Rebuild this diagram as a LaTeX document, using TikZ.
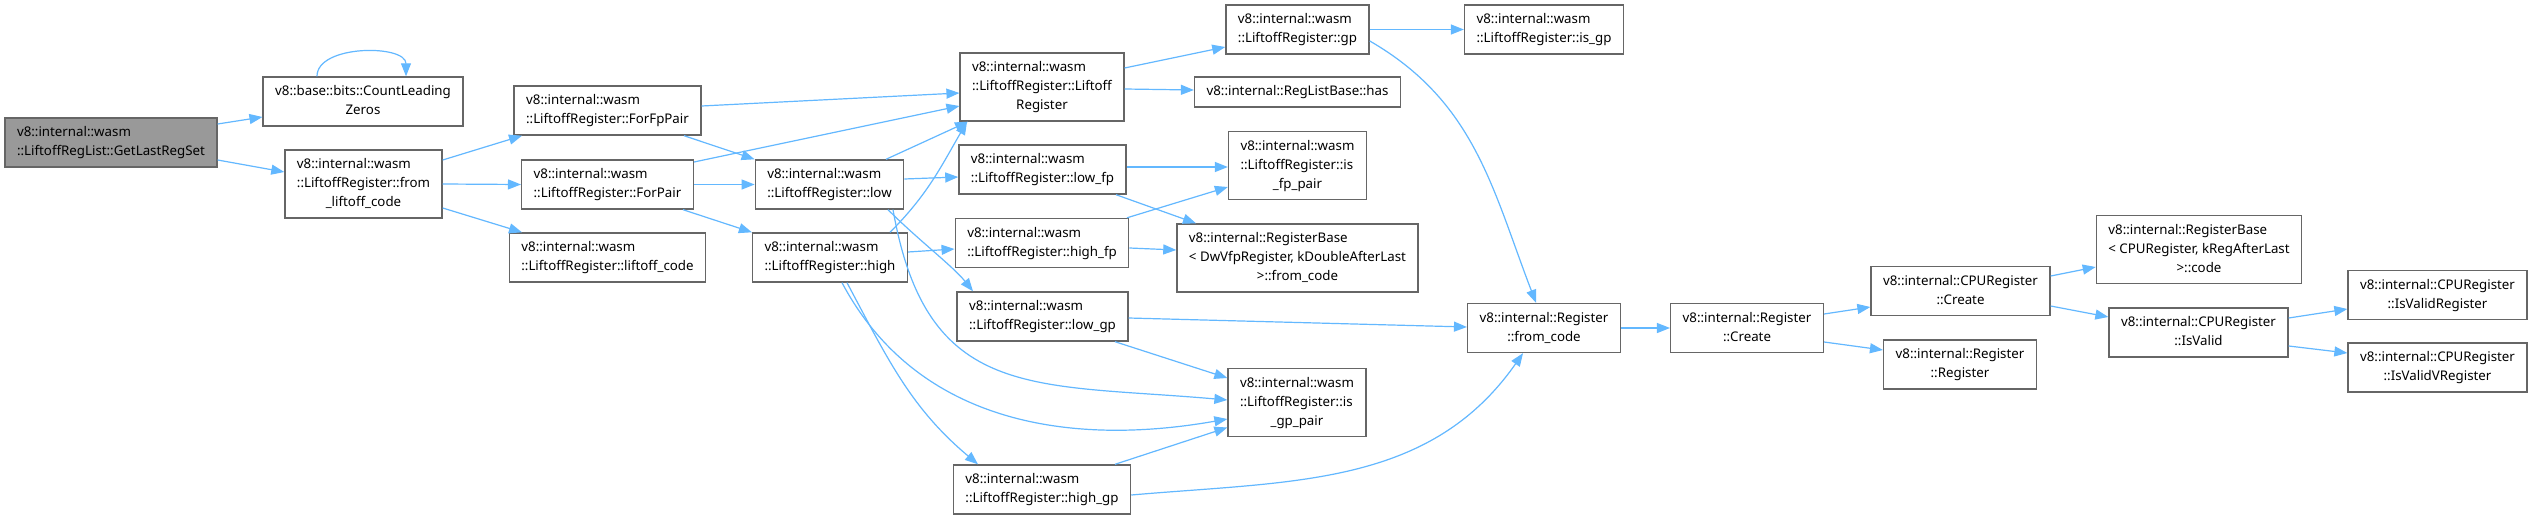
\documentclass[tikz,border=0pt]{standalone}
\usepackage{fontspec}
\setmainfont{Noto Sans}
\usepackage{tikz}
\usetikzlibrary{arrows.meta,positioning}
\definecolor{edgeblue}{HTML}{63B8FF}
\definecolor{boxline}{HTML}{666666}
\definecolor{mainbox}{HTML}{999999}
\newcommand{\lbl}[2]{\begin{tabular}{@{}l@{}}#1\\\multicolumn{1}{@{}c@{}}{#2}\end{tabular}}

\begin{document}
\begin{tikzpicture}[
  x=1pt,y=1pt,
  font=\fontsize{13.3}{19}\selectfont,
  box/.style={draw=boxline,line width=1.4pt,fill=white,inner xsep=12pt,inner ysep=5.5pt},
  arr/.style={-{Triangle[length=13pt,width=10pt]},edgeblue,line width=1.2pt}
]
\path[fill=white] (0,0) rectangle (2532,-519);
\useasboundingbox (0,0) rectangle (2532,-519);
\node[box,fill=mainbox] (getlast) at (111,-142.5) {\lbl{v8::internal::wasm}{::LiftoffRegList::GetLastRegSet}};
\node[box] (clz) at (363,-101.5) {\lbl{v8::base::bits::CountLeading}{Zeros}};
\node[box] (fromlc) at (363.5,-184) {\lbl{v8::internal::wasm\\::LiftoffRegister::from}{\_liftoff\_code}};
\node[box] (forfp) at (607.5,-110.5) {\lbl{v8::internal::wasm}{::LiftoffRegister::ForFpPair}};
\node[box] (forpair) at (607.5,-184.5) {\lbl{v8::internal::wasm}{::LiftoffRegister::ForPair}};
\node[box] (lcode) at (607.5,-257.5) {\lbl{v8::internal::wasm}{::LiftoffRegister::liftoff\_code}};
\node[box] (low) at (829.5,-184.5) {\lbl{v8::internal::wasm}{::LiftoffRegister::low}};
\node[box] (high) at (830,-257.5) {\lbl{v8::internal::wasm}{::LiftoffRegister::high}};
\node[box] (lreg) at (1042,-87) {\lbl{v8::internal::wasm\\::LiftoffRegister::Liftoff}{Register}};
\node[box] (lowfp) at (1042.5,-169.5) {\lbl{v8::internal::wasm}{::LiftoffRegister::low\_fp}};
\node[box] (highfp) at (1042,-243) {\lbl{v8::internal::wasm}{::LiftoffRegister::high\_fp}};
\node[box] (lowgp) at (1042.5,-316.5) {\lbl{v8::internal::wasm}{::LiftoffRegister::low\_gp}};
\node[box] (highgp) at (1042,-489.5) {\lbl{v8::internal::wasm}{::LiftoffRegister::high\_gp}};
\node[box] (gp) at (1297.5,-29.5) {\lbl{v8::internal::wasm}{::LiftoffRegister::gp}};
\node[box] (has) at (1297.5,-92) {\strut v8::internal::RegListBase::has};
\node[box] (isfp) at (1297.5,-165.5) {\lbl{v8::internal::wasm\\::LiftoffRegister::is}{\_fp\_pair}};
\node[box] (rbdw) at (1297.5,-258) {\lbl{v8::internal::RegisterBase\\< DwVfpRegister, kDoubleAfterLast}{>::from\_code}};
\node[box] (isgppair) at (1297,-402.5) {\lbl{v8::internal::wasm\\::LiftoffRegister::is}{\_gp\_pair}};
\node[box] (isgp) at (1544,-29.5) {\lbl{v8::internal::wasm}{::LiftoffRegister::is\_gp}};
\node[box] (fromcode) at (1544,-328) {\lbl{v8::internal::Register}{::from\_code}};
\node[box] (rcreate) at (1747,-328) {\lbl{v8::internal::Register}{::Create}};
\node[box] (ccreate) at (1960.5,-291) {\lbl{v8::internal::CPURegister}{::Create}};
\node[box] (rreg) at (1960,-364.5) {\lbl{v8::internal::Register}{::Register}};
\node[box] (rbcode) at (2199,-249.5) {\lbl{v8::internal::RegisterBase\\< CPURegister, kRegAfterLast}{>::code}};
\node[box] (isvalid) at (2198.5,-332.5) {\lbl{v8::internal::CPURegister}{::IsValid}};
\node[box] (isvr) at (2437.5,-295) {\lbl{v8::internal::CPURegister}{::IsValidRegister}};
\node[box] (isvv) at (2437.5,-367.5) {\lbl{v8::internal::CPURegister}{::IsValidVRegister}};
\draw[arr] ([yshift=18.5pt]getlast.east) -- ([yshift=-15.5pt]clz.west);
\draw[arr] ([yshift=-17.5pt]getlast.east) -- ([yshift=12pt]fromlc.west);
\draw[arr] ([xshift=-46pt]clz.north) .. controls +(0,32) and +(0,32) .. ([xshift=43pt]clz.north);
\draw[arr] ([yshift=24pt]fromlc.east) -- ([xshift=-85.5pt]forfp.south);
\draw[arr] (fromlc.east) -- (forpair.west);
\draw[arr] ([yshift=-24pt]fromlc.east) -- ([xshift=-85.5pt]lcode.north);
\draw[arr] ([yshift=4.5pt]forfp.east) -- ([yshift=-6pt]lreg.west);
\draw[arr] ([xshift=76.5pt]forfp.south) -- (low.north west);
\draw[arr] ([yshift=22.5pt]forpair.east) -- ([yshift=-19pt]lreg.west);
\draw[arr] (forpair.east) -- (low.west);
\draw[arr] ([xshift=75.5pt]forpair.south) -- (high.north west);
\draw[arr] ([xshift=56.5pt]low.north) -- ([xshift=-74pt]lreg.south);
\draw[arr] ([yshift=5.5pt]low.east) -- ([yshift=-7.5pt]lowfp.west);
\draw[arr] ([xshift=58.5pt]low.south) .. controls +(30,-30) and +(-20,25) .. ([xshift=-69.5pt]lowgp.north);
\draw[arr] ([xshift=63.5pt]low.south) to[out=-80,in=175,looseness=1.3] ([yshift=2.5pt]isgppair.west);
\draw[arr] ([xshift=60pt]high.north) to[out=45,in=-120] ([xshift=-75pt]lreg.south);
\draw[arr] ([yshift=5.5pt]high.east) -- ([yshift=-6pt]highfp.west);
\draw[arr] ([xshift=12pt]high.south) to[out=-62,in=190] ([yshift=-16.5pt]isgppair.west);
\draw[arr] ([xshift=17pt]high.south) to[out=-62,in=140] ([xshift=-64pt]highgp.north);
\draw[arr] ([yshift=19pt]lreg.east) -- ([yshift=-17.5pt]gp.west);
\draw[arr] ([yshift=-2pt]lreg.east) -- ([yshift=2pt]has.west);
\draw[arr] ([yshift=2.5pt]lowfp.east) -- ([yshift=-1.5pt]isfp.west);
\draw[arr] ([xshift=73.5pt]lowfp.south) -- ([xshift=-101.5pt]rbdw.north);
\draw[arr] ([xshift=85pt]highfp.north) -- ([yshift=-21.5pt]isfp.west);
\draw[arr] ([yshift=-5pt]highfp.east) -- ([yshift=8pt]rbdw.west);
\draw[arr] ([yshift=-1.5pt]lowgp.east) -- ([yshift=1pt]fromcode.west);
\draw[arr] ([xshift=72.5pt]lowgp.south) -- ([yshift=24.5pt]isgppair.west);
\draw[arr] ([xshift=73pt]highgp.north) -- ([yshift=-25pt]isgppair.west);
\draw[arr] ([yshift=-5.5pt]highgp.east) to[out=5,in=-125] ([xshift=-21pt]fromcode.south);
\draw[arr] (gp.east) -- (isgp.west);
\draw[arr] ([yshift=-11.5pt]gp.east) to[out=-30,in=111] ([xshift=-8pt]fromcode.north);
\draw[arr] (fromcode) -- (rcreate);
\draw[arr] ([yshift=14pt]rcreate.east) -- ([yshift=-16pt]ccreate.west);
\draw[arr] ([yshift=-14pt]rcreate.east) -- ([yshift=14.5pt]rreg.west);
\draw[arr] ([yshift=15pt]ccreate.east) -- ([yshift=-17.5pt]rbcode.west);
\draw[arr] ([yshift=-15pt]ccreate.east) -- ([yshift=15.5pt]isvalid.west);
\draw[arr] ([yshift=14.5pt]isvalid.east) -- ([yshift=-14pt]isvr.west);
\draw[arr] ([yshift=-13.5pt]isvalid.east) -- ([yshift=14.5pt]isvv.west);
\end{tikzpicture}
\end{document}
